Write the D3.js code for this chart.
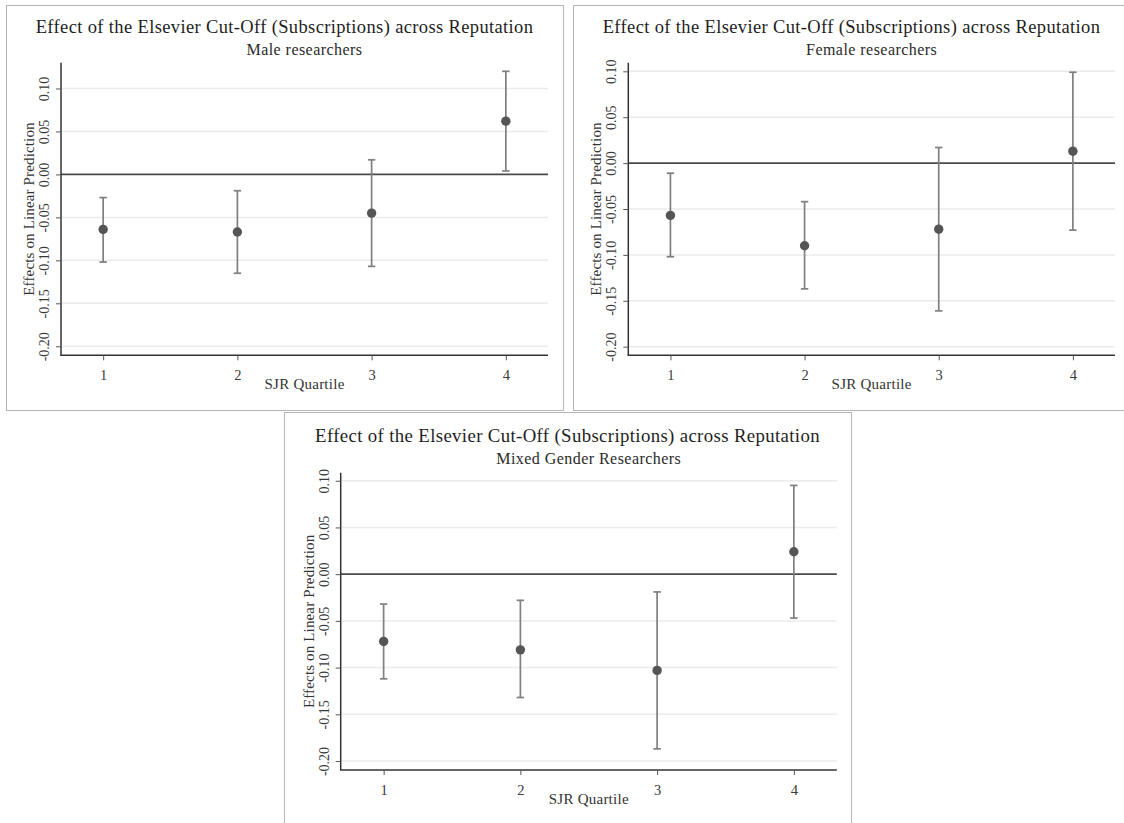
<!DOCTYPE html>
<html>
<head>
<meta charset="utf-8">
<script src="https://cdn.jsdelivr.net/npm/d3@7"></script>
<style>
  body { margin: 0; background: #fff; }
  svg text { font-family: "Liberation Serif", "Times New Roman", serif; }
</style>
</head>
<body>
<div id="chart"></div>
<script>
// SJR quartiles on the x axis
const quartiles = [1, 2, 3, 4];
const yTicks = [-0.20, -0.15, -0.10, -0.05, 0.00, 0.05, 0.10];

// point estimates and 95% CI bounds
const maleEst = [-0.064, -0.067, -0.045, 0.062];
const maleLo  = [-0.102, -0.115, -0.107, 0.004];
const maleHi  = [-0.027, -0.019, 0.017, 0.120];

const femaleEst = [-0.057, -0.090, -0.072, 0.013];
const femaleLo  = [-0.102, -0.137, -0.161, -0.073];
const femaleHi  = [-0.011, -0.042, 0.017, 0.099];

const mixedEst = [-0.072, -0.081, -0.103, 0.024];
const mixedLo  = [-0.112, -0.132, -0.187, -0.047];
const mixedHi  = [-0.032, -0.028, -0.019, 0.095];

const mainTitle = 'Effect of the Elsevier Cut-Off (Subscriptions) across Reputation';
const subTitles = ['Male researchers', 'Female researchers', 'Mixed Gender Researchers'];

const W = 1124, H = 823;

const svg = d3.select('#chart')
    .append('svg')
    .attr('width', W)
    .attr('height', H);

// box = panel frame, plot = axes area (left, top, right, bottom)
const panels = [
    { box: [6, 5, 563, 410], plot: [61, 62.7, 548, 355.3], yDomain: [-0.2105, 0.130],
      est: maleEst, lo: maleLo, hi: maleHi, sub: subTitles[0], titleY: 33, subY: 55, titleSize: 18.5 },
    { box: [573, 5, 1130, 410], plot: [628.3, 62.7, 1115, 355.3], yDomain: [-0.2094, 0.1094],
      est: femaleEst, lo: femaleLo, hi: femaleHi, sub: subTitles[1], titleY: 33, subY: 55, titleSize: 18.5 },
    { box: [284, 412, 851, 830], plot: [340.7, 472.7, 836.8, 770], yDomain: [-0.2096, 0.1086],
      est: mixedEst, lo: mixedLo, hi: mixedHi, sub: subTitles[2], titleY: 442, subY: 464, titleSize: 18.8 }
];

const drawPanel = (p) => {
    const [bx0, by0, bx1, by1] = p.box;
    const [px0, py0, px1, py1] = p.plot;

    svg.append('rect')
        .attr('x', bx0 + 0.5)
        .attr('y', by0 + 0.5)
        .attr('width', bx1 - bx0)
        .attr('height', by1 - by0)
        .attr('fill', '#fff')
        .attr('stroke', '#b5b5b5')
        .attr('stroke-width', 1);

    const xScale = d3.scaleLinear()
        .domain([0.686, 4.314])
        .range([px0, px1]);
    const yScale = d3.scaleLinear()
        .domain(p.yDomain)
        .range([py1, py0]);

    // gridlines
    svg.append('g')
        .selectAll('line')
        .data(yTicks.filter(d => d !== 0))
        .enter()
        .append('line')
        .attr('x1', px0)
        .attr('x2', px1)
        .attr('y1', d => yScale(d))
        .attr('y2', d => yScale(d))
        .attr('stroke', '#ebebeb')
        .attr('stroke-width', 1.5);

    // zero reference line
    svg.append('line')
        .attr('x1', px0)
        .attr('x2', px1)
        .attr('y1', yScale(0))
        .attr('y2', yScale(0))
        .attr('stroke', '#4a4a4a')
        .attr('stroke-width', 1.6);

    const yAxis = d3.axisLeft(yScale)
        .tickValues(yTicks)
        .tickSize(5)
        .tickSizeOuter(0)
        .tickFormat(d => d.toFixed(2));

    const gy = svg.append('g')
        .classed('y axis', true)
        .attr('transform', `translate(${px0},0)`)
        .call(yAxis);
    gy.select('.domain').attr('stroke', '#333').attr('stroke-width', 1.5)
        .attr('d', `M0,${py0}V${py1}`);
    gy.selectAll('.tick line').attr('stroke', '#555').attr('stroke-width', 1);
    gy.selectAll('.tick text')
        .attr('x', 0)
        .attr('y', -12)
        .attr('dy', 0)
        .attr('transform', 'rotate(-90)')
        .style('text-anchor', 'middle')
        .style('font-size', '14px')
        .attr('fill', '#3a3a3a');

    const xAxis = d3.axisBottom(xScale)
        .tickValues(quartiles)
        .tickSize(5)
        .tickSizeOuter(0)
        .tickFormat(d3.format('d'));

    const gx = svg.append('g')
        .classed('x axis', true)
        .attr('transform', `translate(0,${py1})`)
        .call(xAxis);
    gx.select('.domain').attr('stroke', '#333').attr('stroke-width', 1.5)
        .attr('d', `M${px0 - 0.75},0H${px1}`);
    gx.selectAll('.tick line').attr('stroke', '#555').attr('stroke-width', 1);
    gx.selectAll('.tick text')
        .attr('y', 25)
        .attr('dy', 0)
        .style('font-size', '14.5px')
        .attr('fill', '#3a3a3a');

    // error bars
    const rows = quartiles.map((q, i) => ({ q: q, est: p.est[i], lo: p.lo[i], hi: p.hi[i] }));
    const bars = svg.append('g');
    bars.selectAll('.ci')
        .data(rows)
        .enter()
        .append('line')
        .classed('ci', true)
        .attr('x1', d => xScale(d.q))
        .attr('x2', d => xScale(d.q))
        .attr('y1', d => yScale(d.lo))
        .attr('y2', d => yScale(d.hi))
        .attr('stroke', '#7f7f7f')
        .attr('stroke-width', 1.7);
    ['lo', 'hi'].forEach(k => {
        bars.selectAll('.cap-' + k)
            .data(rows)
            .enter()
            .append('line')
            .classed('cap-' + k, true)
            .attr('x1', d => xScale(d.q) - 3.7)
            .attr('x2', d => xScale(d.q) + 3.7)
            .attr('y1', d => yScale(d[k]))
            .attr('y2', d => yScale(d[k]))
            .attr('stroke', '#7f7f7f')
            .attr('stroke-width', 1.7);
    });
    bars.selectAll('.pt')
        .data(rows)
        .enter()
        .append('circle')
        .classed('pt', true)
        .attr('cx', d => xScale(d.q))
        .attr('cy', d => yScale(d.est))
        .attr('r', 4.7)
        .attr('fill', '#555');

    // titles
    svg.append('text')
        .attr('x', (bx0 + bx1) / 2)
        .attr('y', p.titleY)
        .attr('text-anchor', 'middle')
        .style('font-size', p.titleSize + 'px')
        .style('letter-spacing', '0.36px')
        .attr('fill', '#1e1e1e')
        .text(mainTitle);
    svg.append('text')
        .attr('x', (px0 + px1) / 2)
        .attr('y', p.subY)
        .attr('text-anchor', 'middle')
        .style('font-size', '16px')
        .style('letter-spacing', '0.45px')
        .attr('fill', '#2a2a2a')
        .text(p.sub);

    // axis titles
    svg.append('text')
        .attr('x', (px0 + px1) / 2)
        .attr('y', py1 + 34)
        .attr('text-anchor', 'middle')
        .style('font-size', '15px')
        .style('letter-spacing', '0.25px')
        .attr('fill', '#333')
        .text('SJR Quartile');
    svg.append('text')
        .attr('transform', `translate(${px0 - 27},${(py0 + py1) / 2}) rotate(-90)`)
        .attr('text-anchor', 'middle')
        .style('font-size', '15px')
        .style('letter-spacing', '0.15px')
        .attr('fill', '#333')
        .text('Effects on Linear Prediction');
};

panels.forEach(drawPanel);
</script>
</body>
</html>
